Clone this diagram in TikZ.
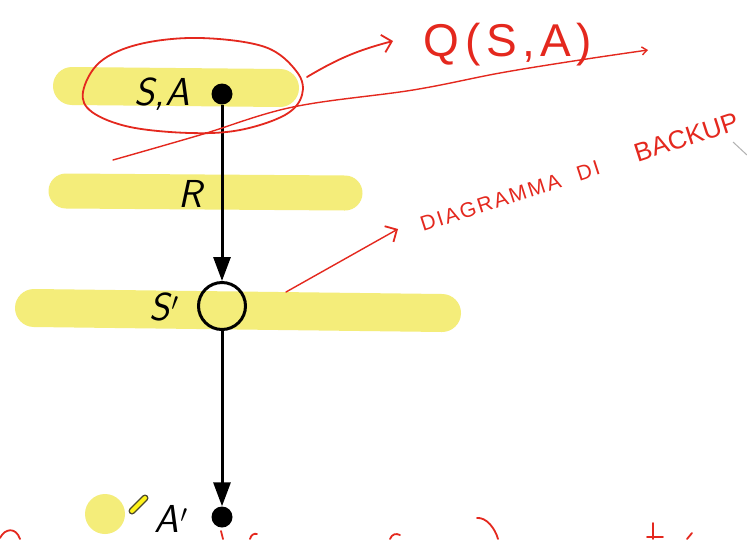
\documentclass[tikz,border=0pt]{standalone}
\usepackage{fontspec}
\newfontfamily\hand{Liberation Sans}
\usetikzlibrary{arrows.meta}
\definecolor{hl}{RGB}{244,237,122}
\definecolor{pen}{RGB}{228,40,30}
\tikzset{
  highlight/.style={line width=#1, draw=hl, line cap=round},
  redpen/.style={draw=pen, line width=1.8pt, line cap=round, line join=round},
  redarrow/.style={redpen, -{Straight Barb[length=9pt,width=18pt,line width=1.8pt]}},
  lbl/.style={font=\fontsize{39}{40}\selectfont\sffamily\itshape, anchor=base, inner sep=0pt},
  statedot/.style={circle, fill=black, minimum size=21pt, inner sep=0pt},
  statecirc/.style={circle, draw=black, line width=3pt, minimum size=47pt, inner sep=0pt},
  conn/.style={draw=black, line width=3pt, -{Triangle[length=24pt,width=17pt]}},
  handtext/.style={text=pen, inner sep=0pt},
}
\begin{document}
\begin{tikzpicture}[x=1pt,y=-1pt]
\useasboundingbox (0,0) rectangle (747,539);
\fill[white] (0,0) rectangle (747,539);
% highlights
\draw[highlight=38pt] (72,86) -- (280,88);
\draw[highlight=35pt] (66,191) -- (345,193);
\draw[highlight=38pt] (34,308) -- (442,313);
\fill[hl] (105,514) circle (20pt);
\draw[line width=7pt, draw=black!60!olive, line cap=round] (132,511) -- (145,498);
\draw[line width=4pt, draw=yellow!90!white, line cap=round] (132,511) -- (145,498);
% nodes
\node[statedot] (sa) at (222,94) {};
\node[statecirc] (sp) at (222,306) {};
\node[statedot] (ap) at (222,517) {};
\node[lbl] (lsa) at (162,105) {S,A};
\node[lbl] (lr) at (190,207) {R};
\node[lbl] (lsp) at (164,320) {S\kern1.5pt$'$};
\node[lbl] (lap) at (171,532) {A\kern1.5pt$'$};
% connectors
\draw[conn] (sa) -- (sp);
\draw[conn] (sp) -- (ap);
% red annotations
\draw[redpen] plot[smooth cycle, tension=0.6] coordinates {(200,38) (265,47) (297,72) (302,95) (285,115) (240,130) (190,133) (130,127) (92,112) (83,92) (100,62) (140,44)};
\coordinate (q1) at (307,77);
\coordinate (q2) at (393,41);
\draw[redarrow] (q1) to[bend left=8] (q2);
\node[handtext, font=\hand\fontsize{46}{46}\selectfont\addfontfeature{LetterSpace=12}] (q) at (508,45) {Q(S,A)};
\draw[redpen, line width=1.4pt, -{Straight Barb[length=5pt,width=8pt]}] plot[smooth, tension=0.6] coordinates {(113,160) (200,135) (293,107) (413,90) (500,73) (580,60) (648,50)};
\coordinate (d1) at (286,292);
\coordinate (d2) at (398,229);
\draw[redarrow, line width=1.4pt] (d1) -- (d2);
\node[handtext, rotate=18, anchor=base west, font=\hand\fontsize{21}{21}\selectfont\addfontfeature{LetterSpace=10}] (t) at (423,232) {DIAGRAMMA\hspace{18pt}DI\hspace{38pt}{\fontsize{26}{26}\selectfont\addfontfeature{LetterSpace=1}BACKUP}};
\draw[gray!60, line width=1pt] (733,142) -- (747,155);
% bottom cut-off strokes
\draw[redpen] (0,538) .. controls (5,528) and (16,527) .. (20,539);
\draw[redpen] (221,531) -- (223,539);
\draw[redpen] (250,539) .. controls (251,535) and (254,533) .. (257,534);
\draw[redpen] (390,539) .. controls (392,534) and (396,533) .. (400,535);
\draw[redpen] (477,518) .. controls (486,517) and (495,528) .. (498,539);
\draw[redpen] (653,523) -- (653,539);
\draw[redpen] (647,537) -- (663,537);
\draw[redpen] (692,533) -- (687,539);
\end{tikzpicture}
\end{document}
